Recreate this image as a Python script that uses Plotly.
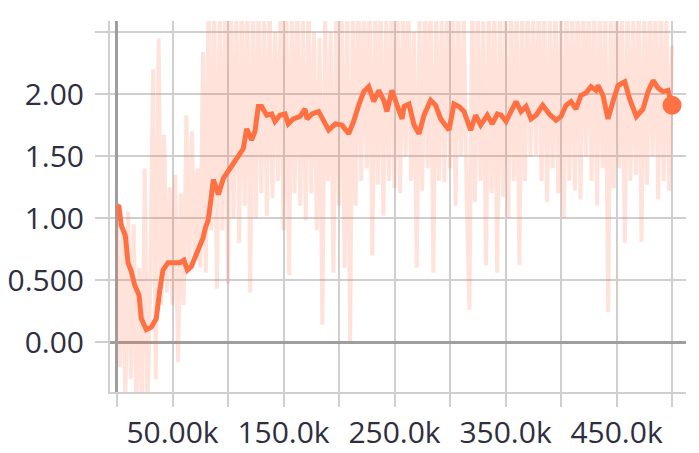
import plotly.graph_objects as go

# ---- data (steps in thousands) ----
SMOOTH_STEP_K = [0, 1.8, 3.9, 7.5, 9.9, 12.9, 15.9, 19.8, 21.9, 26.4, 30.9, 35.4, 38.4, 41.4, 45.9,
                 52, 56.5, 60.3, 63.4, 67, 73, 77.5, 79.6, 82, 83.8, 86.8, 91.3, 95.8, 101.8, 109.3,
                 113.8, 116.8, 121.3, 124.3, 127.3, 130.3, 134.9, 139.4, 142.3, 146.8, 151.4, 154.3,
                 158.8, 164.9, 169.4, 171.2, 175.7, 181.7, 186.2, 190.7, 196.7, 202.7, 208.7, 213.2,
                 217.7, 222.3, 226.8, 231.3, 235.8, 240.3, 243.2, 247.7, 252.3, 256.8, 258.6, 263.1,
                 267.6, 272.1, 276.6, 282.6, 287.1, 291.6, 299.1, 303.6, 308.1, 312.6, 318.6, 323.1,
                 327.6, 333.6, 338.1, 342.6, 346, 350.5, 355, 359.5, 364, 368.5, 373, 377.5, 383.5,
                 389.5, 395.5, 400, 404.5, 409, 413.5, 418, 422.5, 427, 431.5, 433.3, 437.8, 442.3,
                 446.8, 451.4, 457.4, 461.9, 467.9, 473.9, 478.4, 482.9, 487.4, 491.9, 496.4, 500]

SMOOTH_VALUES = [1.10, 1.09, 0.94, 0.86, 0.64, 0.57, 0.46, 0.38, 0.19, 0.10, 0.12, 0.19, 0.41, 0.58,
                 0.64, 0.64, 0.64, 0.66, 0.58, 0.61, 0.73, 0.84, 0.92, 0.98, 1.09, 1.31, 1.19, 1.32,
                 1.40, 1.51, 1.56, 1.72, 1.63, 1.70, 1.90, 1.90, 1.83, 1.84, 1.78, 1.83, 1.84, 1.76,
                 1.80, 1.82, 1.88, 1.80, 1.84, 1.86, 1.78, 1.71, 1.76, 1.75, 1.68, 1.78, 1.91, 2.02,
                 2.06, 1.94, 2.03, 1.95, 1.86, 2.03, 1.91, 1.80, 1.90, 1.92, 1.75, 1.68, 1.83, 1.95,
                 1.91, 1.80, 1.71, 1.92, 1.90, 1.86, 1.71, 1.83, 1.75, 1.83, 1.76, 1.84, 1.83, 1.78,
                 1.86, 1.94, 1.86, 1.90, 1.80, 1.83, 1.91, 1.84, 1.79, 1.82, 1.91, 1.94, 1.88, 1.99,
                 2.01, 2.06, 2.03, 2.07, 1.99, 1.80, 1.94, 2.07, 2.10, 1.96, 1.82, 1.88, 2.02, 2.11,
                 2.05, 2.02, 2.03, 1.91]

RAW_VALUES = [
    1.09, -0.2, 0.9, -0.5, 1.05, -0.3, 0.95, -0.5, 0.6, -0.6,
    1.4, -0.6, 0.5, 2.2, -0.3, 2.45, 0.3, 1.67, 0.4, 1.25,
    0.3, 1.35, -0.16, 1.2, 0.3, 1.83, 0.56, 1.7, 0.7, 1.4,
    0.6, 2.34, 0.56, 2.8, 0.9, 2.8, 0.43, 2.7, 0.9, 2.8,
    0.47, 2.8, 1.0, 2.8, 0.8, 2.8, 1.1, 2.8, 0.4, 2.8,
    1.0, 2.8, 1.2, 2.6, 1.02, 2.8, 1.16, 2.5, 1.3, 2.8,
    0.9, 2.8, 0.54, 2.7, 1.2, 2.8, 1.1, 2.6, 0.98, 2.8,
    1.2, 2.5, 0.9, 2.45, 0.14, 2.6, 1.3, 2.5, 0.56, 2.6,
    1.1, 2.8, 0.6, 2.7, 0.0, 2.8, 1.1, 2.8, 1.3, 2.8,
    1.4, 2.8, 0.7, 2.8, 1.27, 2.8, 1.02, 2.6, 1.3, 2.8,
    1.24, 2.8, 1.2, 2.7, 1.5, 2.8, 1.3, 2.5, 0.6, 2.6,
    1.22, 2.8, 1.4, 2.8, 0.56, 2.7, 1.3, 2.6, 1.29, 2.8,
    1.4, 2.8, 1.1, 2.7, 1.5, 2.6, 1.2, 0.26, 2.8, 1.13,
    2.7, 1.3, 2.6, 0.62, 2.8, 1.2, 2.7, 0.56, 2.8, 1.17,
    2.6, 1.0, 2.8, 1.3, 2.8, 0.62, 2.7, 1.3, 2.8, 1.5,
    2.6, 1.51, 2.8, 1.3, 2.7, 1.13, 2.6, 1.4, 2.8, 1.2,
    2.6, 1.0, 2.8, 1.3, 2.7, 1.22, 2.8, 1.15, 2.8, 1.5,
    2.8, 1.3, 2.7, 1.1, 2.8, 1.4, 2.6, 0.24, 2.8, 1.24,
    2.8, 1.4, 2.7, 0.8, 2.8, 1.3, 2.6, 1.35, 2.8, 0.81,
    2.7, 1.27, 2.8, 1.5, 2.7, 1.15, 2.8, 1.3, 2.6, 1.22, 2.39,
]
RAW_STEP_K = [i * 2.5 for i in range(len(RAW_VALUES))]

X_TICKS_K = [0, 50, 100, 150, 200, 250, 300, 350, 400, 450, 500]
X_TICK_TEXT = ["", "50.00k", "", "150.0k", "", "250.0k", "", "350.0k", "", "450.0k", ""]
Y_TICKS = [0, 0.5, 1.0, 1.5, 2.0, 2.5]
Y_TICK_TEXT = ["0.00", "0.500", "1.00", "1.50", "2.00", ""]

ORANGE = "#ff7043"
GRID = "#cfcfcf"
ZERO = "#9e9e9e"
TEXT = "#2e2e3e"

raw_x = [s * 1000 for s in RAW_STEP_K]
sm_x = [s * 1000 for s in SMOOTH_STEP_K]

fig = go.Figure()
fig.add_trace(go.Scatter(x=raw_x, y=RAW_VALUES, mode="lines",
                         line=dict(color="rgba(255,112,67,0.2)", width=4),
                         hoverinfo="skip", showlegend=False))
fig.add_trace(go.Scatter(x=sm_x, y=SMOOTH_VALUES, mode="lines",
                         line=dict(color=ORANGE, width=5),
                         showlegend=False))
fig.add_trace(go.Scatter(x=[sm_x[-1]], y=[SMOOTH_VALUES[-1]], mode="markers",
                         marker=dict(color=ORANGE, size=19),
                         showlegend=False, cliponaxis=False))

# page body has an 8px default margin, so the figure is sized to fit the window
fig.update_layout(
    width=691, height=445,
    margin=dict(l=102, r=13, t=13, b=61),
    paper_bgcolor="white", plot_bgcolor="white",
    font=dict(family="Open Sans", size=30, color=TEXT),
)
fig.update_xaxes(
    automargin=False,
    range=[-6300, 512600],
    tickvals=[t * 1000 for t in X_TICKS_K], ticktext=X_TICK_TEXT,
    ticks="outside", ticklen=13, tickwidth=2, tickcolor=GRID,
    showgrid=True, gridcolor=GRID, gridwidth=2,
    zeroline=True, zerolinecolor=ZERO, zerolinewidth=3,
    showline=True, linecolor=GRID, linewidth=2,
)
fig.update_yaxes(
    automargin=False,
    range=[-0.403, 2.59],
    tickvals=Y_TICKS, ticktext=Y_TICK_TEXT,
    ticks="outside", ticklen=13, tickwidth=2, tickcolor=GRID,
    ticklabelstandoff=5,
    showgrid=True, gridcolor=GRID, gridwidth=2,
    zeroline=True, zerolinecolor=ZERO, zerolinewidth=3,
    showline=True, linecolor=GRID, linewidth=2,
)

fig.write_html("out.html")
